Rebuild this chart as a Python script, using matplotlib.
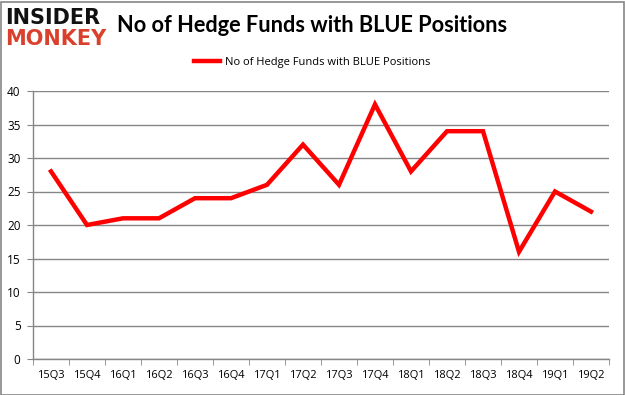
import matplotlib
matplotlib.use("Agg")
import matplotlib.pyplot as plt
from matplotlib.patches import Rectangle

quarters = ["15Q3", "15Q4", "16Q1", "16Q2", "16Q3", "16Q4", "17Q1", "17Q2",
            "17Q3", "17Q4", "18Q1", "18Q2", "18Q3", "18Q4", "19Q1", "19Q2"]
funds = [28, 20, 21, 21, 24, 24, 26, 32, 26, 38, 28, 34, 34, 16, 25, 22]
yticks = [0, 5, 10, 15, 20, 25, 30, 35, 40]
series_label = "No of Hedge Funds with BLUE Positions"
title = "No of Hedge Funds with BLUE Positions"

W, H = 625, 395
fig = plt.figure(figsize=(W / 100, H / 100), dpi=100)
fig.patch.set_facecolor("white")
fig.patches.append(Rectangle((0.5 / W, 0.5 / H), 1 - 2 / W, 1 - 2 / H, transform=fig.transFigure,
                             fill=False, edgecolor="#868686", linewidth=1.2))

ax = fig.add_axes([33 / W, 1 - 359 / H, (609 - 33) / W, (359 - 91) / H])
x = list(range(len(quarters)))
line, = ax.plot(x, funds, color="#ff0000", linewidth=3.2, solid_joinstyle="miter",
                label=series_label)
ax.set_xlim(-0.5, len(quarters) - 0.5)
ax.set_ylim(0, 40)
ax.set_yticks(yticks)
ax.set_yticklabels([str(v) for v in yticks], fontsize=8.5, family="Open Sans")
ax.set_xticks(x)
ax.set_xticklabels(quarters, fontsize=8, family="Open Sans")
ax.set_xticks([i - 0.5 for i in range(len(quarters) + 1)], minor=True)
ax.tick_params(axis="x", which="major", length=0, pad=8)
ax.tick_params(axis="x", which="minor", length=4, color="#868686", direction="out")
ax.tick_params(axis="y", length=4, color="#868686", pad=5)
ax.grid(axis="y", color="#868686", linewidth=1)
ax.set_axisbelow(True)
for s in ["top", "right"]:
    ax.spines[s].set_visible(False)
for s in ["left", "bottom"]:
    ax.spines[s].set_color("#868686")
    ax.spines[s].set_linewidth(1)

fig.text(312 / W, 1 - 25 / H, title, ha="center", va="center", fontsize=15.7,
         fontweight="bold", family="Lato")
fig.legend(handles=[line], loc="center", bbox_to_anchor=(312 / W, 1 - 62 / H), frameon=False,
           handlelength=2.4, handletextpad=0.4,
           prop={"family": "Open Sans", "size": 8})

fig.text(5 / W, 1 - 18 / H, "INSIDER", ha="left", va="center", fontsize=15,
         fontweight="bold", family="DejaVu Sans", color="#111111")
fig.text(5 / W, 1 - 39 / H, "MONKEY", ha="left", va="center", fontsize=15,
         fontweight="bold", family="DejaVu Sans", color="#d9412d")

fig.savefig("out.png", dpi=100, facecolor="white")
